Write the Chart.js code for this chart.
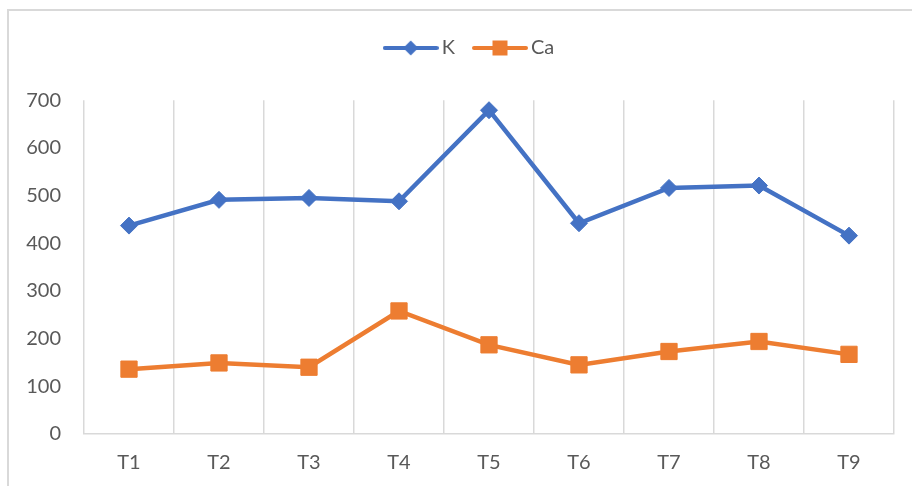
<!DOCTYPE html>
<html>
<head>
<meta charset="utf-8">
<script src="https://cdn.jsdelivr.net/npm/chart.js@4.4.1/dist/chart.umd.min.js"></script>
<style>
  html, body { margin: 0; padding: 0; background: #fff; overflow: hidden; }
  #frame { position: absolute; left: 7px; top: 9px; width: 1000px; height: 1000px;
           border-top: 2px solid #d9d9d9; border-left: 2px solid #d9d9d9; }
  #wrap { position: absolute; left: 0; top: 0; width: 912px; height: 486px; }
</style>
</head>
<body>
<div id="frame"></div>
<div id="wrap"><canvas id="chart" width="912" height="486"></canvas></div>
<script>
// categories and series
const categories = ['T1', 'T2', 'T3', 'T4', 'T5', 'T6', 'T7', 'T8', 'T9'];
const kValues = [437, 491, 495, 488, 679, 442, 516, 521, 416];
const caValues = [136, 149, 140, 258, 187, 145, 173, 194, 167];
const yTicks = [0, 100, 200, 300, 400, 500, 600, 700];

const BLUE = '#4472C4';
const ORANGE = '#ED7D31';
const TEXT = '#595959';
const GRID = '#d9d9d9';
const FONT = 'Lato, "Open Sans", sans-serif';

// legend glyph: short line with the series marker in the middle
function legendGlyph(color, shape) {
    const c = document.createElement('canvas');
    c.width = 56; c.height = 20;
    const g = c.getContext('2d');
    g.strokeStyle = color;
    g.fillStyle = color;
    g.lineWidth = 4;
    g.lineCap = 'round';
    g.beginPath();
    g.moveTo(2, 10); g.lineTo(54, 10);
    g.stroke();
    g.beginPath();
    if (shape === 'diamond') {
        g.moveTo(28, 2.5); g.lineTo(35.5, 10); g.lineTo(28, 17.5); g.lineTo(20.5, 10);
        g.closePath();
    } else {
        g.rect(20.5, 2.5, 15, 15);
    }
    g.fill();
    return c;
}
const glyphs = [legendGlyph(BLUE, 'diamond'), legendGlyph(ORANGE, 'square')];

const legendTweak = {
    id: 'legendTweak',
    afterInit(chart) {
        const lg = chart.legend;
        const fit = lg.fit;
        lg.fit = function () { fit.call(this); this.height = 86.2; };
    },
    afterLayout(chart) {
        chart.legend.left += 25;
        chart.legend.right += 25;
    }
};

new Chart(document.getElementById('chart'), {
    type: 'line',
    data: {
        labels: categories,
        datasets: [
            {
                label: 'K',
                data: kValues,
                borderColor: BLUE,
                backgroundColor: BLUE,
                borderWidth: 4.5,
                pointStyle: 'rectRot',
                pointRadius: 8.5,
                pointBorderWidth: 1,
                tension: 0
            },
            {
                label: 'Ca',
                data: caValues,
                borderColor: ORANGE,
                backgroundColor: ORANGE,
                borderWidth: 4.5,
                pointStyle: 'rect',
                pointRadius: 11.5,
                pointBorderWidth: 1,
                tension: 0
            }
        ]
    },
    options: {
        responsive: false,
        animation: false,
        devicePixelRatio: 1,
        layout: { padding: { left: 0, top: 14, right: 18, bottom: 0 } },
        plugins: {
            tooltip: { enabled: false },
            legend: {
                position: 'top',
                align: 'center',
                labels: {
                    usePointStyle: true,
                    pointStyleWidth: 42,
                    padding: 24,
                    color: TEXT,
                    font: { family: FONT, size: 20 },
                    generateLabels: (chart) => chart.data.datasets.map((ds, i) => ({
                        text: ds.label,
                        pointStyle: glyphs[i],
                        fontColor: TEXT,
                        lineWidth: 0,
                        strokeStyle: 'transparent',
                        fillStyle: ds.borderColor,
                        hidden: false,
                        datasetIndex: i
                    }))
                }
            }
        },
        scales: {
            x: {
                offset: true,
                grid: { display: true, offset: true, color: GRID, lineWidth: 1.5, drawTicks: false },
                border: { display: true, color: GRID, width: 1.5 },
                ticks: { color: TEXT, font: { family: FONT, size: 20 }, padding: 17, maxRotation: 0 },
                afterFit: (s) => { s.height = 52; }
            },
            y: {
                min: 0,
                max: 700,
                afterBuildTicks: (s) => { s.ticks = yTicks.map(v => ({ value: v })); },
                grid: { display: false, drawTicks: false },
                border: { display: false },
                ticks: { color: TEXT, font: { family: FONT, size: 20 }, padding: 23 },
                afterFit: (s) => { s.width = 84; }
            }
        }
    },
    plugins: [legendTweak]
});
</script>
</body>
</html>
